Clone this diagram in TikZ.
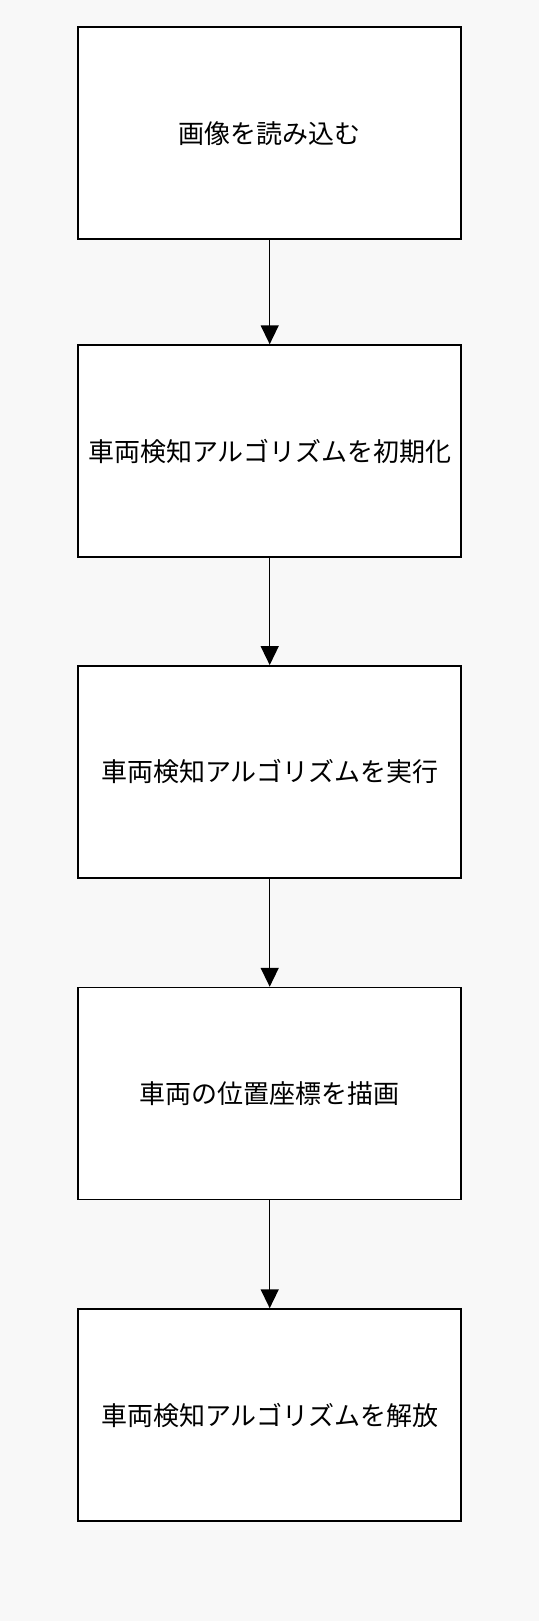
\documentclass[tikz,border=0pt]{standalone}
\usepackage{fontspec}
\newfontfamily\cjk{Noto Sans CJK JP}
\usetikzlibrary{arrows.meta}
\definecolor{bg}{HTML}{F8F8F8}
\tikzset{
  stepbox/.style={draw=black, fill=white, line width=1.5pt, minimum width=383pt, minimum height=212pt, inner sep=0pt, font=\cjk\fontsize{26pt}{30pt}\selectfont, text=black},
  flow/.style={draw=black, line width=1.5pt, -{Triangle[length=19pt,width=18pt]}}
}
\begin{document}
\begin{tikzpicture}[x=1pt,y=-1pt]
\fill[bg] (0,0) rectangle (539,1621);
\useasboundingbox (0,0) rectangle (539,1621);
\node[stepbox] (n1) at (269.7,133.2) {画像を読み込む};
\node[stepbox] (n2) at (269.7,451.0) {車両検知アルゴリズムを初期化};
\node[stepbox] (n3) at (269.7,771.8) {車両検知アルゴリズムを実行};
\node[stepbox] (n4) at (269.7,1093.5) {車両の位置座標を描画};
\node[stepbox] (n5) at (269.7,1415.0) {車両検知アルゴリズムを解放};
\draw[flow] (n1) -- (n2);
\draw[flow] (n2) -- (n3);
\draw[flow] (n3) -- (n4);
\draw[flow] (n4) -- (n5);
\end{tikzpicture}
\end{document}
